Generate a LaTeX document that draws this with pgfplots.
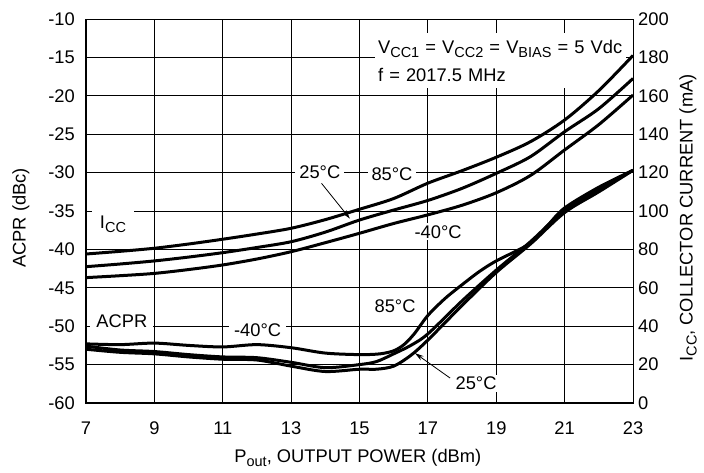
\documentclass[border=0pt]{standalone}
\usepackage{fontspec}
\setmainfont{Liberation Sans}
\usepackage{pgfplots}
\pgfplotsset{compat=1.18}
\usetikzlibrary{arrows.meta}
\newcommand{\sub}[1]{\raisebox{-0.22em}{\fontsize{14.5}{14.5}\selectfont #1}}
\begin{document}
\begin{tikzpicture}[font=\fontsize{18.3}{21}\selectfont]
\useasboundingbox (-86pt,-69pt) rectangle (618pt,403pt);
\begin{axis}[
  at={(0,0)}, anchor=south west,
  scale only axis, width=547pt, height=384pt,
  xmin=7, xmax=23, ymin=-60, ymax=-10,
  xtick={7,9,11,13,15,17,19,21,23},
  xticklabels={7,9,11,13,15,17,19,21,23},
  ytick={-60,-55,-50,-45,-40,-35,-30,-25,-20,-15,-10},
  yticklabels={-60,-55,-50,-45,-40,-35,-30,-25,-20,-15,-10},
  grid=major, major grid style={black, line width=0.8pt},
  axis line style={black, line width=1pt},
  major tick length=0pt,
  yticklabel style={anchor=east, inner sep=0pt, xshift=-11pt},
  xticklabel style={anchor=north, inner sep=0pt, yshift=-19pt},
  xlabel={P\sub{out}, OUTPUT POWER (dBm)},
  ylabel={ACPR (dBc)},
  xlabel style={at={(axis description cs:0.497,-0.1432)}, anchor=center},
  ylabel style={at={(axis description cs:-0.1188,0.482)}, anchor=center},
]
\draw[line width=2.5pt, line cap=rect] (rel axis cs:0,1) -- (rel axis cs:0,0) -- (rel axis cs:1,0);
% ACPR curves
\addplot[black, line width=3pt, smooth] coordinates {
(7,-52.3) (8,-52.4) (9,-52.2) (10,-52.5) (11,-52.7) (12,-52.4) (13,-52.8) (14,-53.5) (15,-53.7) (15.6,-53.6) (16,-53.2) (16.3,-52.4) (16.6,-51.0) (17,-48.6) (17.5,-46.4) (18,-44.6) (18.5,-42.9) (19,-41.5) (20,-39.2) (20.5,-36.9) (21,-34.6) (22,-31.9) (23,-29.7)};
\addplot[black, line width=3pt, smooth] coordinates {
(7,-52.6) (8,-53.1) (9,-53.3) (10,-53.7) (11,-54.0) (12,-54.1) (13,-54.7) (14,-55.4) (15,-55.0) (15.5,-54.6) (16,-53.6) (16.5,-52.5) (17,-51.0) (18,-46.7) (19,-42.7) (20,-39.0) (21,-34.9) (22,-32.2) (23,-29.7)};
\addplot[black, line width=3pt, smooth] coordinates {
(7,-53.0) (8,-53.4) (9,-53.6) (10,-54.0) (11,-54.3) (12,-54.4) (13,-55.2) (14,-55.9) (15,-55.6) (15.5,-55.6) (16,-55.2) (16.5,-53.8) (17,-51.8) (18,-47.3) (19,-43.0) (20,-39.3) (21,-35.2) (22,-32.5) (23,-29.7)};
% labels
\node[fill=white, anchor=north west, align=left, text width=245pt, inner xsep=3pt, inner ysep=3pt, minimum height=55pt] at (axis cs:15.45,-11.8)
  {V\sub{CC1} = V\sub{CC2} = V\sub{BIAS} = 5 Vdc\\[7pt] f = 2017.5 MHz};
\node[fill=white, inner xsep=4pt, inner ysep=2pt] at (axis cs:13.84,-30) {25°C};
\node[fill=white, inner xsep=4pt, inner ysep=2pt] at (axis cs:15.95,-30.2) {85°C};
\node[fill=white, inner xsep=4pt, inner ysep=2pt] at (axis cs:17.3,-37.7) {-40°C};
\node[fill=white, inner xsep=8pt, inner ysep=6pt] at (axis cs:7.79,-36.7) {I\sub{CC}};
\node[fill=white, inner xsep=6pt, inner ysep=3pt] at (axis cs:8.05,-49.4) {ACPR};
\node[fill=white, inner xsep=5pt, inner ysep=3pt] at (axis cs:12.02,-50.5) {-40°C};
\node[fill=white, inner xsep=3pt, inner ysep=2pt] at (axis cs:16.04,-47.4) {85°C};
\node[fill=white, inner xsep=3pt, inner ysep=2pt] at (axis cs:18.41,-57.4) {25°C};
\draw[-{Stealth[length=9pt,width=5pt]}, line width=0.8pt] (axis cs:13.89,-31.4) -- (axis cs:14.72,-36.0);
\draw[-{Stealth[length=9pt,width=5pt]}, line width=0.8pt] (axis cs:17.65,-56.75) -- (axis cs:16.62,-53.5);
\end{axis}
\begin{axis}[
  at={(0,0)}, anchor=south west,
  scale only axis, width=547pt, height=384pt,
  xmin=7, xmax=23, ymin=0, ymax=200,
  axis x line=none, axis y line*=right,
  axis line style={black, line width=1pt},
  ytick={0,20,40,60,80,100,120,140,160,180,200},
  yticklabels={0,20,40,60,80,100,120,140,160,180,200},
  major tick length=0pt,
  yticklabel style={anchor=west, inner sep=0pt, xshift=5pt},
  ylabel={I\sub{CC}, COLLECTOR CURRENT (mA)},
  ylabel style={at={(axis description cs:1.1005,0.482)}, anchor=center},
]
\addplot[black, line width=3pt, smooth] coordinates {
(7,77.6) (8,79.0) (9,80.6) (10,82.8) (11,85.3) (12,88.0) (13,91.0) (14,95.5) (15,100.9) (16,106.5) (17,114.5) (18,121.0) (19,128.0) (20,136.1) (21,147.4) (22,162.7) (23,181.0)};
\addplot[black, line width=3pt, smooth] coordinates {
(7,71.0) (8,72.4) (9,74.0) (10,76.0) (11,78.3) (12,81.0) (13,84.0) (14,89.0) (15,95.3) (16,100.5) (17,105.5) (18,111.8) (19,119.6) (20,128.3) (21,141.3) (22,153.3) (23,169.0)};
\addplot[black, line width=3pt, smooth] coordinates {
(7,65.3) (8,66.3) (9,67.5) (10,69.5) (11,71.9) (12,75.0) (13,78.8) (14,83.5) (15,88.4) (16,93.5) (17,98.0) (18,103.0) (19,109.5) (20,118.5) (21,131.8) (22,145.0) (23,160.4)};
\end{axis}
\end{tikzpicture}
\end{document}
